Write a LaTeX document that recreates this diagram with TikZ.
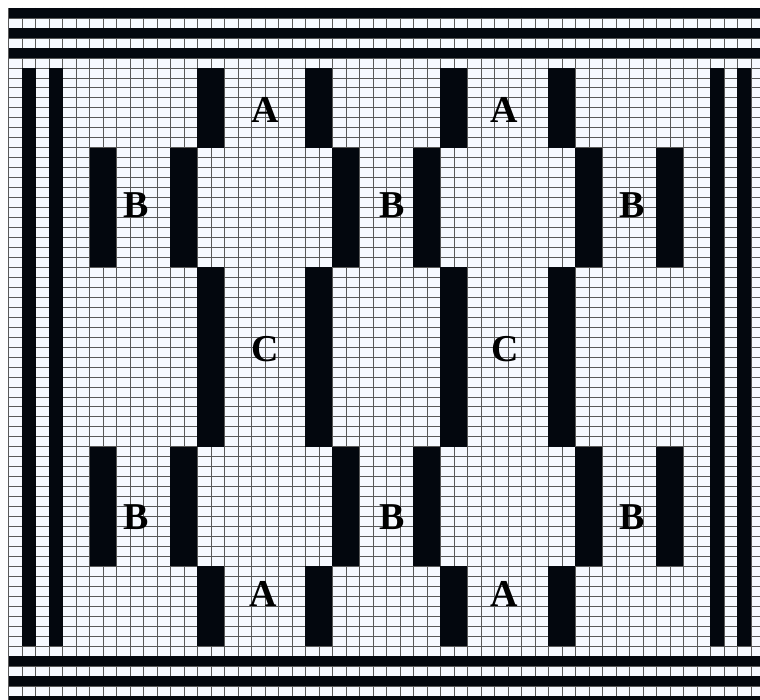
\documentclass[tikz,border=0pt]{standalone}
\usepackage{fontspec}
\setmainfont{Liberation Serif}
\definecolor{fondo}{RGB}{246,249,255}
\definecolor{tinta}{RGB}{3,7,14}
\tikzset{
  barra/.style={fill=tinta},
  rejilla/.style={black!65, line width=0.45pt},
  letra/.style={inner sep=0pt, font=\fontsize{36}{40}\selectfont\bfseries}
}
\begin{document}
\begin{tikzpicture}[x=0.45cm, y=-0.3323cm]
        \useasboundingbox (-0.63,-0.8) rectangle (55.67,69.41);
        \clip (-0.63,-0.8) rectangle (55.67,69.41);

        % Fondo de las celdas
        \fill[fondo] (0,0) rectangle (56,70);

        % Rejilla
        \foreach \c in {0,...,56}
          \draw[rejilla] (\c,0) -- (\c,70);
        \foreach \r in {0,...,70}
          \draw[rejilla] (0,\r) -- (56,\r);

        % Bandas horizontales arriba y abajo
        \foreach \r in {0,2,4,65,67,69}
          \fill[barra] (0,\r) rectangle (56,\r+1);

        % Barras laterales
        \foreach \c in {1,3,52,54}
          \fill[barra] (\c,6) rectangle (\c+1,64);

        % Barras de las zonas A y C
        \foreach \c in {14,22,32,40} {
          \fill[barra] (\c,6) rectangle (\c+2,14);
          \fill[barra] (\c,26) rectangle (\c+2,44);
          \fill[barra] (\c,56) rectangle (\c+2,64);
        }

        % Barras de las zonas B
        \foreach \c in {6,12,24,30,42,48} {
          \fill[barra] (\c,14) rectangle (\c+2,26);
          \fill[barra] (\c,44) rectangle (\c+2,56);
        }

        % Letras
        \node[letra] (a1) at (19.0,10.2) {A};
        \node[letra] (a2) at (36.7,10.2) {A};
        \node[letra] (b1) at (9.42,19.8) {B};
        \node[letra] (b2) at (28.4,19.8) {B};
        \node[letra] (b3) at (46.2,19.8) {B};
        \node[letra] (c1) at (19.0,34.25) {C};
        \node[letra] (c2) at (36.8,34.25) {C};
        \node[letra] (b4) at (9.42,51.05) {B};
        \node[letra] (b5) at (28.4,51.05) {B};
        \node[letra] (b6) at (46.2,51.05) {B};
        \node[letra] (a3) at (18.9,58.8) {A};
        \node[letra] (a4) at (36.7,58.8) {A};
    \end{tikzpicture}
\end{document}
